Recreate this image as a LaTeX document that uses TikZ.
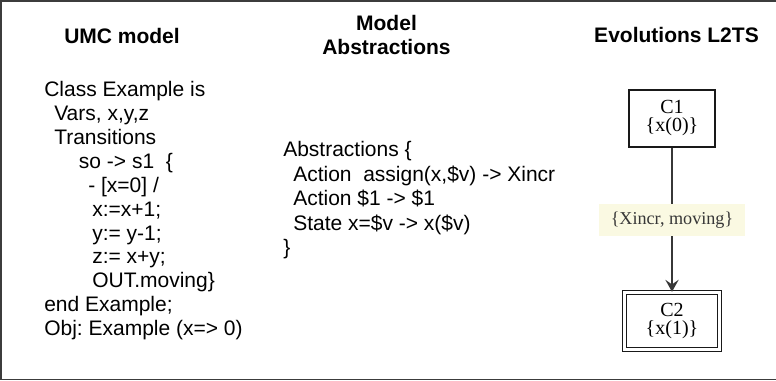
\documentclass[tikz,border=0pt]{standalone}
\usepackage{fontspec}
\setmainfont{Liberation Sans}
\newfontfamily\statefont{Liberation Serif}
\usepackage{tikz}
\usetikzlibrary{arrows.meta}
\usetikzlibrary{positioning}
\frenchspacing

\definecolor{framegray}{RGB}{60,60,60}
\definecolor{edgegray}{RGB}{55,55,55}
\definecolor{labelyellow}{RGB}{250,249,226}

\tikzset{
  head/.style={anchor=base,inner sep=0.75pt,align=center,font=\fontsize{15.75}{18.4}\selectfont\bfseries},
  code/.style={anchor=base west,inner sep=0.75pt,align=left,font=\fontsize{15.75}{17.9}\selectfont},
  state/.style={draw=black!90,rectangle,align=center,inner sep=1pt,font=\statefont\fontsize{15}{13.5}\selectfont},
  evlabel/.style={fill=labelyellow,inner sep=0pt,minimum width=110pt,minimum height=24pt,font=\statefont\fontsize{13.6}{15}\selectfont}
}

\begin{document}
\begin{tikzpicture}[x=0.75pt,y=0.75pt,yscale=-1,xscale=1]
  \useasboundingbox (0,0) rectangle (776,381); %same size as the reference
  %Frame lines
  \draw [color=framegray,line width=1.1pt] (776,1) -- (1,1) -- (1,379.5) -- (776,379.5) ;

  % Text Node (base = last line)
  \draw (122,44) node (umcHead) [head] {UMC model};
  % Text Node
  \draw (386.5,55) node (absHead) [head] {Model\\Abstractions};
  % Text Node
  \draw (676.5,43) node (evoHead) [head] {Evolutions L2TS};

  % Text Node
  \draw (43,335.5) node (umcCode) [code] {Class Example is\\
    \hspace*{7.5pt}Vars, x,y,z\\
    \hspace*{7.5pt}Transitions\\
    \hspace*{26pt}so -> s1\ \ \{\\
    \hspace*{33pt}- [x=0] /\\
    \hspace*{36pt}x:=x+1;\\
    \hspace*{36pt}y:= y-1;\\
    \hspace*{36pt}z:= x+y;\\
    \hspace*{36pt}OUT.moving\}\\
    end Example;\\
    Obj: Example (x=> 0)};
  % Text Node
  \draw (282,254.6) node (absCode) [code,font=\fontsize{15.75}{18.3}\selectfont] {Abstractions \{\\
    \hspace*{7.5pt}Action\ \ assign(x,\$v) -> Xincr\\
    \hspace*{7.5pt}Action \$1 -> \$1\\
    \hspace*{7.5pt}State x=\$v -> x(\$v)\\
    \}};

  % States
  \draw (672,118.5) node (cOne) [state,line width=1.5pt,minimum width=64.5pt,minimum height=42.75pt] {C1\\\{x(0)\}};
  \draw (672,321) node (cTwo) [state,line width=1.1pt,double,double distance=1.9pt,minimum width=70.9pt,minimum height=42.75pt] {C2\\\{x(1)\}};

  %Straight Lines
  \draw [color=edgegray,line width=1.1pt,-{Stealth[length=9pt,width=10pt,inset=3.5pt]}] (cOne) -- node (evLabel) [evlabel] {\{Xincr, moving\}} (cTwo) ;
\end{tikzpicture}
\end{document}
